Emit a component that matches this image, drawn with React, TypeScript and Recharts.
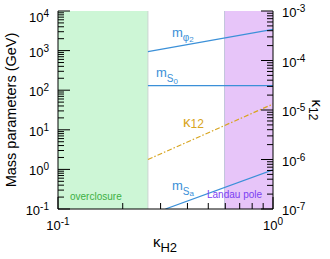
import React from "react";
import {
  ComposedChart,
  Line,
  XAxis,
  YAxis,
  ReferenceArea,
  ReferenceLine,
} from "recharts";

// axis ticks
const kappaTicks = [0.1, 0.2, 0.3, 0.4, 0.5, 0.6, 0.7, 0.8, 0.9, 1];

const logTicks = (from: number, to: number) => {
  const out: number[] = [];
  for (let e = from; e < to; e++) {
    for (let m = 1; m < 10; m++) out.push(m * Math.pow(10, e));
  }
  out.push(Math.pow(10, to));
  return out;
};
const massTicks = logTicks(-1, 4);
const k12Ticks = logTicks(-7, -3);

// series
const mPhi2 = [
  { x: 0.262, y: 940 },
  { x: 1, y: 3450 },
];
const mS0 = [
  { x: 0.262, y: 130 },
  { x: 1, y: 130 },
];
const kappa12 = [
  { x: 0.262, y: 1.0e-6 },
  { x: 1, y: 1.32e-5 },
];
const mSa = [
  { x: 0.316, y: 0.1 },
  { x: 1, y: 0.97 },
];

// excluded regions
const overclosure = [0.1, 0.262];
const landauPole = [0.595, 1];

const W = 330;
const H = 259;
const LEFT = 58;
const RIGHT = 273;
const TOP = 11;
const BOTTOM = 209;
const MAJOR = 12;
const MINOR = 6;
const FONT = "'Liberation Sans', Arial, Helvetica, sans-serif";
const BLUE = "#3b90d8";
const GOLD = "#d8a520";

const isDecade = (v: number) =>
  Math.abs(Math.log10(v) - Math.round(Math.log10(v))) < 1e-6;
const expOf = (v: number) => Math.round(Math.log10(v));

const Pow = ({ v }: { v: number }) => (
  <>
    10
    <tspan dy={-5} fontSize={10}>
      {expOf(v)}
    </tspan>
  </>
);

const BottomTick = (props: any) => {
  const { x, payload } = props;
  const major = isDecade(payload.value);
  return (
    <g>
      <line x1={x} x2={x} y1={BOTTOM} y2={BOTTOM - (major ? MAJOR : MINOR)} stroke="#000" />
      {major && (
        <text x={x} y={230} textAnchor="middle" fontSize={13} fontFamily={FONT} fill="#000">
          <Pow v={payload.value} />
        </text>
      )}
    </g>
  );
};

const TopTick = (props: any) => {
  const { x, payload } = props;
  const major = isDecade(payload.value);
  return (
    <line x1={x} x2={x} y1={TOP} y2={TOP + (major ? MAJOR : MINOR)} stroke="#000" />
  );
};

const LeftTick = (props: any) => {
  const { y, payload } = props;
  const v = payload.value;
  const major = isDecade(v);
  const base = expOf(v) === 4 ? y + 11 : y + 6;
  return (
    <g>
      <line x1={LEFT} x2={LEFT + (major ? MAJOR : MINOR)} y1={y} y2={y} stroke="#000" />
      {major && (
        <text x={49} y={base} textAnchor="end" fontSize={13} fontFamily={FONT} fill="#000">
          <Pow v={v} />
        </text>
      )}
    </g>
  );
};

const RightTick = (props: any) => {
  const { y, payload } = props;
  const v = payload.value;
  const major = isDecade(v);
  return (
    <g>
      <line x1={RIGHT} x2={RIGHT - (major ? MAJOR : MINOR)} y1={y} y2={y} stroke="#000" />
      {major && (
        <text x={282} y={y + 6} textAnchor="start" fontSize={13} fontFamily={FONT} fill="#000">
          <Pow v={v} />
        </text>
      )}
    </g>
  );
};

export default function App() {
  return (
    <div style={{ position: "absolute", left: 0, top: 0, width: W, height: H, background: "#fff" }}>
      <ComposedChart
        width={W}
        height={H}
        margin={{ top: TOP, right: 0, bottom: 0, left: 0 }}
      >
        <XAxis
          dataKey="x"
          type="number"
          scale="log"
          domain={[0.1, 1]}
          allowDataOverflow
          ticks={kappaTicks}
          interval={0}
          height={H - BOTTOM}
          tickSize={0}
          tickMargin={0}
          tickLine={false}
          axisLine={{ stroke: "#000" }}
          tick={<BottomTick />}
        />
        <XAxis
          xAxisId="top"
          orientation="top"
          dataKey="x"
          type="number"
          scale="log"
          domain={[0.1, 1]}
          allowDataOverflow
          ticks={kappaTicks}
          interval={0}
          height={0}
          tickSize={0}
          tickMargin={0}
          tickLine={false}
          axisLine={{ stroke: "#000" }}
          tick={<TopTick />}
        />
        <YAxis
          type="number"
          scale="log"
          domain={[0.1, 10000]}
          allowDataOverflow
          ticks={massTicks}
          interval={0}
          width={LEFT}
          tickSize={0}
          tickMargin={0}
          tickLine={false}
          axisLine={{ stroke: "#000" }}
          tick={<LeftTick />}
        />
        <YAxis
          yAxisId="r"
          orientation="right"
          type="number"
          scale="log"
          domain={[1e-7, 1e-3]}
          allowDataOverflow
          ticks={k12Ticks}
          interval={0}
          width={W - RIGHT}
          tickSize={0}
          tickMargin={0}
          tickLine={false}
          axisLine={{ stroke: "#000" }}
          tick={<RightTick />}
        />
        <ReferenceArea
          x1={overclosure[0]}
          x2={overclosure[1]}
          fill="#cdf6d6"
          fillOpacity={1}
          stroke="none"
        />
        <ReferenceArea
          x1={landauPole[0]}
          x2={landauPole[1]}
          fill="#e7c5f9"
          fillOpacity={1}
          stroke="none"
        />
        <ReferenceLine x={overclosure[1]} stroke="#cbd5d3" />
        <ReferenceLine x={landauPole[0]} stroke="#c3c6dc" />
        <Line data={mPhi2} dataKey="y" stroke={BLUE} strokeWidth={1.2} dot={false} isAnimationActive={false} />
        <Line data={mS0} dataKey="y" stroke={BLUE} strokeWidth={1.2} dot={false} isAnimationActive={false} />
        <Line data={mSa} dataKey="y" stroke={BLUE} strokeWidth={1.2} dot={false} isAnimationActive={false} />
        <Line
          data={kappa12}
          dataKey="y"
          yAxisId="r"
          stroke={GOLD}
          strokeWidth={1.2}
          strokeDasharray="5 2 1.5 2"
          dot={false}
          isAnimationActive={false}
        />
      </ComposedChart>
      <svg
        width={W}
        height={H}
        style={{ position: "absolute", left: 0, top: 0, pointerEvents: "none" }}
        fontFamily={FONT}
      >
        <text
          transform="translate(16,110) rotate(-90)"
          textAnchor="middle"
          fontSize={14.5}
          fill="#000"
        >
          Mass parameters (GeV)
        </text>
        <text x={165} y={247} textAnchor="middle" fontSize={15} fill="#000">
          κ
          <tspan dy={5} fontSize={13}>H2</tspan>
        </text>
        <text transform="translate(312,110) rotate(90)" textAnchor="middle" fontSize={15} fill="#000">
          κ
          <tspan dy={3} fontSize={12}>12</tspan>
        </text>
        <text x={172} y={37} fontSize={13} fill={BLUE}>
          m<tspan dy={4} fontSize={10}>φ</tspan>
          <tspan dy={1} fontSize={8}>2</tspan>
        </text>
        <text x={156} y={77} fontSize={13} fill={BLUE}>
          m<tspan dy={5} fontSize={10}>S</tspan>
          <tspan dy={2} fontSize={8}>0</tspan>
        </text>
        <text x={172} y={190} fontSize={13} fill={BLUE}>
          m<tspan dy={5} fontSize={10}>S</tspan>
          <tspan dy={1} fontSize={8}>a</tspan>
        </text>
        <text x={183} y={127} fontSize={15} fill={GOLD}>
          κ<tspan dy={1} fontSize={12}>12</tspan>
        </text>
        <text x={70} y={200} fontSize={10} fill="#3cb043">
          overclosure
        </text>
        <text x={207} y={198} fontSize={10} fill="#7b3ff2">
          Landau pole
        </text>
      </svg>
    </div>
  );
}
